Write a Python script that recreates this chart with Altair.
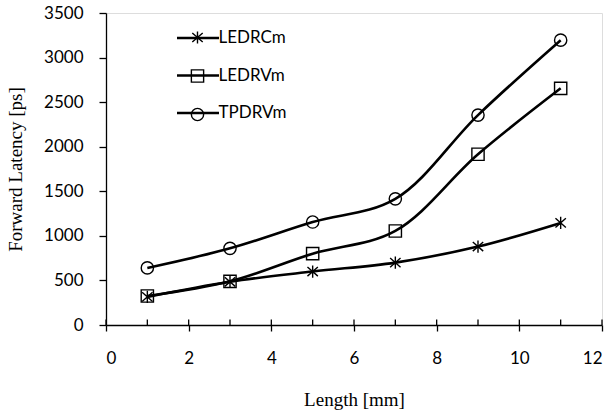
import altair as alt
import pandas as pd

# ---- data ----
lengths = [1, 3, 5, 7, 9, 11]
ledrcm = [315, 485, 600, 700, 880, 1145]
ledrvm = [325, 490, 800, 1055, 1915, 2655]
tpdrvm = [640, 860, 1155, 1415, 2355, 3195]
series_names = ["LEDRCm", "LEDRVm", "TPDRVm"]
x_major = [0, 2, 4, 6, 8, 10, 12]
x_minor = list(range(13))
y_ticks = [0, 500, 1000, 1500, 2000, 2500, 3000, 3500]

rows = []
for name, vals in zip(series_names, [ledrcm, ledrvm, tpdrvm]):
    for xv, yv in zip(lengths, vals):
        rows.append({"series": name, "marker": name, "length": xv, "latency": yv})
df = pd.DataFrame(rows)
ticks_df = pd.DataFrame({"tick": x_minor, "base": [0] * len(x_minor)})

ASTERISK = "M0,-1L0,1M-0.85,-0.75L0.85,0.75M-0.85,0.75L0.85,-0.75"
LEGEND_LINE = "M-4.2,0L4.2,0"
LABEL_FONT = "Lato"
TITLE_FONT = "Liberation Serif"

xscale = alt.Scale(domain=[0, 12], nice=False, zero=False)
yscale = alt.Scale(domain=[0, 3500], nice=False)

base = alt.Chart(df)

lines = base.mark_line(interpolate="catmull-rom", strokeWidth=2.6).encode(
    x=alt.X("length:Q", scale=xscale,
            axis=alt.Axis(orient="bottom", values=x_major, tickSize=6, tickWidth=1.3,
                          domainWidth=1.3, domainColor="black", tickColor="black", grid=False,
                          labelFont=LABEL_FONT, labelFontSize=17, labelColor="black",
                          labelPadding=19, title="Length [mm]", titleFont=TITLE_FONT,
                          titleFontSize=19, titleFontWeight="normal", titleColor="black",
                          titlePadding=24)),
    y=alt.Y("latency:Q", scale=yscale,
            axis=alt.Axis(values=y_ticks, format="d", tickSize=7, tickWidth=1.3,
                          domainWidth=1.3, domainColor="black", tickColor="black", grid=False,
                          labelFont=LABEL_FONT, labelFontSize=17, labelColor="black",
                          labelPadding=16, title="Forward Latency [ps]", titleFont=TITLE_FONT,
                          titleFontSize=19, titleFontWeight="normal", titleColor="black",
                          titlePadding=18)),
    color=alt.Color("series:N", sort=series_names,
                    scale=alt.Scale(domain=series_names, range=["black", "black", "black"]),
                    legend=alt.Legend(title=None, orient="none", legendX=83.5, legendY=16.5,
                                      symbolType=LEGEND_LINE, symbolSize=100,
                                      symbolStrokeWidth=2.6, labelFont=LABEL_FONT,
                                      labelFontSize=17, labelColor="black", labelOffset=12,
                                      rowPadding=19.5, padding=0)),
)

points = base.mark_point(filled=False, size=150, strokeWidth=1.4, color="black", opacity=1).encode(
    x=alt.X("length:Q", scale=xscale),
    y=alt.Y("latency:Q", scale=yscale),
    shape=alt.Shape("marker:N", sort=series_names,
                    scale=alt.Scale(domain=series_names, range=[ASTERISK, "square", "circle"]),
                    legend=alt.Legend(title=None, orient="none", legendX=83, legendY=16,
                                      symbolSize=150, symbolStrokeWidth=1.4,
                                      symbolStrokeColor="black", symbolFillColor="transparent",
                                      labelExpr="' '", labelFont=LABEL_FONT, labelFontSize=17,
                                      labelOffset=0, rowPadding=19.5, padding=0)),
)

minor_ticks = alt.Chart(ticks_df).mark_rule(
    color="black", strokeWidth=1.3, y2Offset=-5.5, opacity=1
).encode(
    x=alt.X("tick:Q", scale=xscale),
    y=alt.Y("base:Q", scale=yscale),
    y2="base:Q",
)

chart = alt.layer(lines, points, minor_ticks).resolve_scale(
    color="independent", shape="independent"
).properties(
    width=496, height=312,
    autosize=alt.AutoSizeParams(type="none"),
    padding={"left": 106, "top": 13, "right": 12, "bottom": 92},
).configure_view(stroke=None).configure(background="white")

chart.save("out.html", embed_options={"renderer": "svg", "actions": False})
